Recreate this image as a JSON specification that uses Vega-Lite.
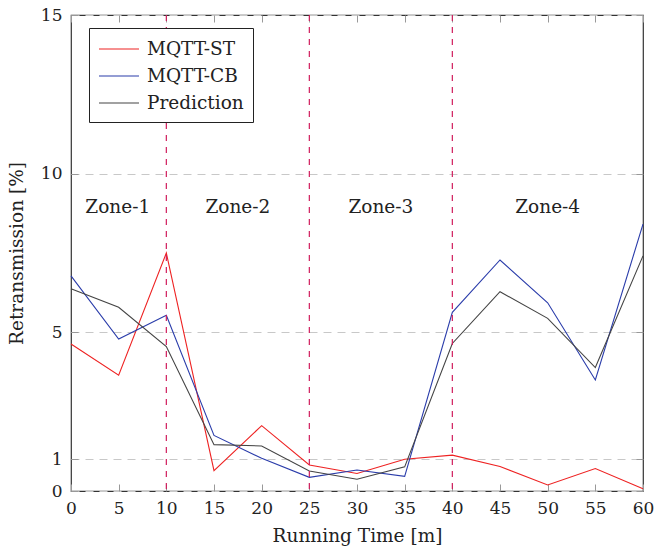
{
  "$schema": "https://vega.github.io/schema/vega-lite/v6.json",
  "width": 572,
  "height": 476,
  "autosize": {"type": "none"},
  "padding": {"left": 71, "top": 15, "right": 12, "bottom": 63},
  "background": "white",
  "config": {
    "font": "DejaVu Serif",
    "view": {"stroke": "#333333", "strokeWidth": 1.2},
    "axis": {
      "labelFont": "DejaVu Serif",
      "titleFont": "DejaVu Serif",
      "labelFontSize": 17,
      "titleFontSize": 18.5,
      "titleFontWeight": "normal",
      "labelColor": "#222222",
      "titleColor": "#222222",
      "labelFlush": false,
      "domain": false,
      "tickColor": "#999999",
      "tickSize": -7,
      "tickWidth": 1
    },
    "legend": {
      "labelFont": "DejaVu Serif",
      "labelFontSize": 18.5,
      "labelColor": "#222222"
    }
  },
  "datasets": {
    "series": [
      {"t": 0, "v": 4.63, "s": "MQTT-ST"},
      {"t": 5, "v": 3.65, "s": "MQTT-ST"},
      {"t": 10, "v": 7.5, "s": "MQTT-ST"},
      {"t": 15, "v": 0.64, "s": "MQTT-ST"},
      {"t": 20, "v": 2.06, "s": "MQTT-ST"},
      {"t": 25, "v": 0.82, "s": "MQTT-ST"},
      {"t": 30, "v": 0.55, "s": "MQTT-ST"},
      {"t": 35, "v": 1.0, "s": "MQTT-ST"},
      {"t": 40, "v": 1.13, "s": "MQTT-ST"},
      {"t": 45, "v": 0.77, "s": "MQTT-ST"},
      {"t": 50, "v": 0.19, "s": "MQTT-ST"},
      {"t": 55, "v": 0.71, "s": "MQTT-ST"},
      {"t": 60, "v": 0.07, "s": "MQTT-ST"},
      {"t": 0, "v": 6.78, "s": "MQTT-CB"},
      {"t": 5, "v": 4.79, "s": "MQTT-CB"},
      {"t": 10, "v": 5.54, "s": "MQTT-CB"},
      {"t": 15, "v": 1.75, "s": "MQTT-CB"},
      {"t": 20, "v": 1.03, "s": "MQTT-CB"},
      {"t": 25, "v": 0.43, "s": "MQTT-CB"},
      {"t": 30, "v": 0.66, "s": "MQTT-CB"},
      {"t": 35, "v": 0.46, "s": "MQTT-CB"},
      {"t": 40, "v": 5.63, "s": "MQTT-CB"},
      {"t": 45, "v": 7.28, "s": "MQTT-CB"},
      {"t": 50, "v": 5.93, "s": "MQTT-CB"},
      {"t": 55, "v": 3.5, "s": "MQTT-CB"},
      {"t": 60, "v": 8.41, "s": "MQTT-CB"},
      {"t": 0, "v": 6.37, "s": "Prediction"},
      {"t": 5, "v": 5.79, "s": "Prediction"},
      {"t": 10, "v": 4.55, "s": "Prediction"},
      {"t": 15, "v": 1.46, "s": "Prediction"},
      {"t": 20, "v": 1.42, "s": "Prediction"},
      {"t": 25, "v": 0.63, "s": "Prediction"},
      {"t": 30, "v": 0.37, "s": "Prediction"},
      {"t": 35, "v": 0.76, "s": "Prediction"},
      {"t": 40, "v": 4.65, "s": "Prediction"},
      {"t": 45, "v": 6.28, "s": "Prediction"},
      {"t": 50, "v": 5.44, "s": "Prediction"},
      {"t": 55, "v": 3.89, "s": "Prediction"},
      {"t": 60, "v": 7.41, "s": "Prediction"}
    ],
    "zones": [
      {"t": 4.9, "v": 8.95, "label": "Zone-1"},
      {"t": 17.5, "v": 8.95, "label": "Zone-2"},
      {"t": 32.5, "v": 8.95, "label": "Zone-3"},
      {"t": 50, "v": 8.95, "label": "Zone-4"}
    ],
    "bounds": [
      {"t": 10},
      {"t": 25},
      {"t": 40}
    ]
  },
  "layer": [
    {
      "data": {"name": "series"},
      "mark": {"type": "line", "strokeWidth": 1.1},
      "encoding": {
        "x": {
          "field": "t",
          "type": "quantitative",
          "scale": {"domain": [0, 60], "nice": false, "zero": false},
          "axis": {
            "values": [0, 5, 10, 15, 20, 25, 30, 35, 40, 45, 50, 55, 60],
            "grid": false,
            "title": "Running Time [m]",
            "labelPadding": 16,
            "titlePadding": 10
          }
        },
        "y": {
          "field": "v",
          "type": "quantitative",
          "scale": {"domain": [0, 15], "nice": false},
          "axis": {
            "values": [0, 1, 5, 10, 15],
            "grid": true,
            "gridColor": "#c8c8c8",
            "gridDash": [8, 6],
            "gridWidth": 1,
            "title": "Retransmission [%]",
            "labelPadding": 16,
            "titlePadding": 14
          }
        },
        "color": {
          "field": "s",
          "type": "nominal",
          "scale": {
            "domain": ["MQTT-ST", "MQTT-CB", "Prediction"],
            "range": ["#ee2222", "#2a3caa", "#444444"]
          },
          "legend": {
            "title": null,
            "orient": "none",
            "legendX": 18,
            "legendY": 13,
            "symbolType": "M-1,0H2.64",
            "symbolSize": 484,
            "symbolStrokeWidth": 1.1,
            "labelOffset": 25,
            "padding": 9,
            "rowPadding": 5,
            "strokeColor": "#222222",
            "fillColor": "white"
          }
        }
      }
    },
    {
      "data": {"name": "bounds"},
      "mark": {"type": "rule", "color": "#d01c5c", "strokeWidth": 1.2, "strokeDash": [6, 6]},
      "encoding": {
        "x": {
          "field": "t",
          "type": "quantitative",
          "axis": {
            "orient": "top",
            "values": [0, 5, 10, 15, 20, 25, 30, 35, 40, 45, 50, 55, 60],
            "labels": false,
            "title": null,
            "grid": false
          }
        }
      }
    },
    {
      "data": {"name": "zones"},
      "mark": {"type": "text", "fontSize": 18.5, "font": "DejaVu Serif", "color": "#222222"},
      "encoding": {
        "x": {"field": "t", "type": "quantitative", "axis": null},
        "y": {
          "field": "v",
          "type": "quantitative",
          "axis": {
            "orient": "right",
            "values": [0, 1, 5, 10, 15],
            "labels": false,
            "title": null,
            "grid": false
          }
        },
        "text": {"field": "label"}
      }
    }
  ],
  "resolve": {"axis": {"x": "independent", "y": "independent"}}
}
